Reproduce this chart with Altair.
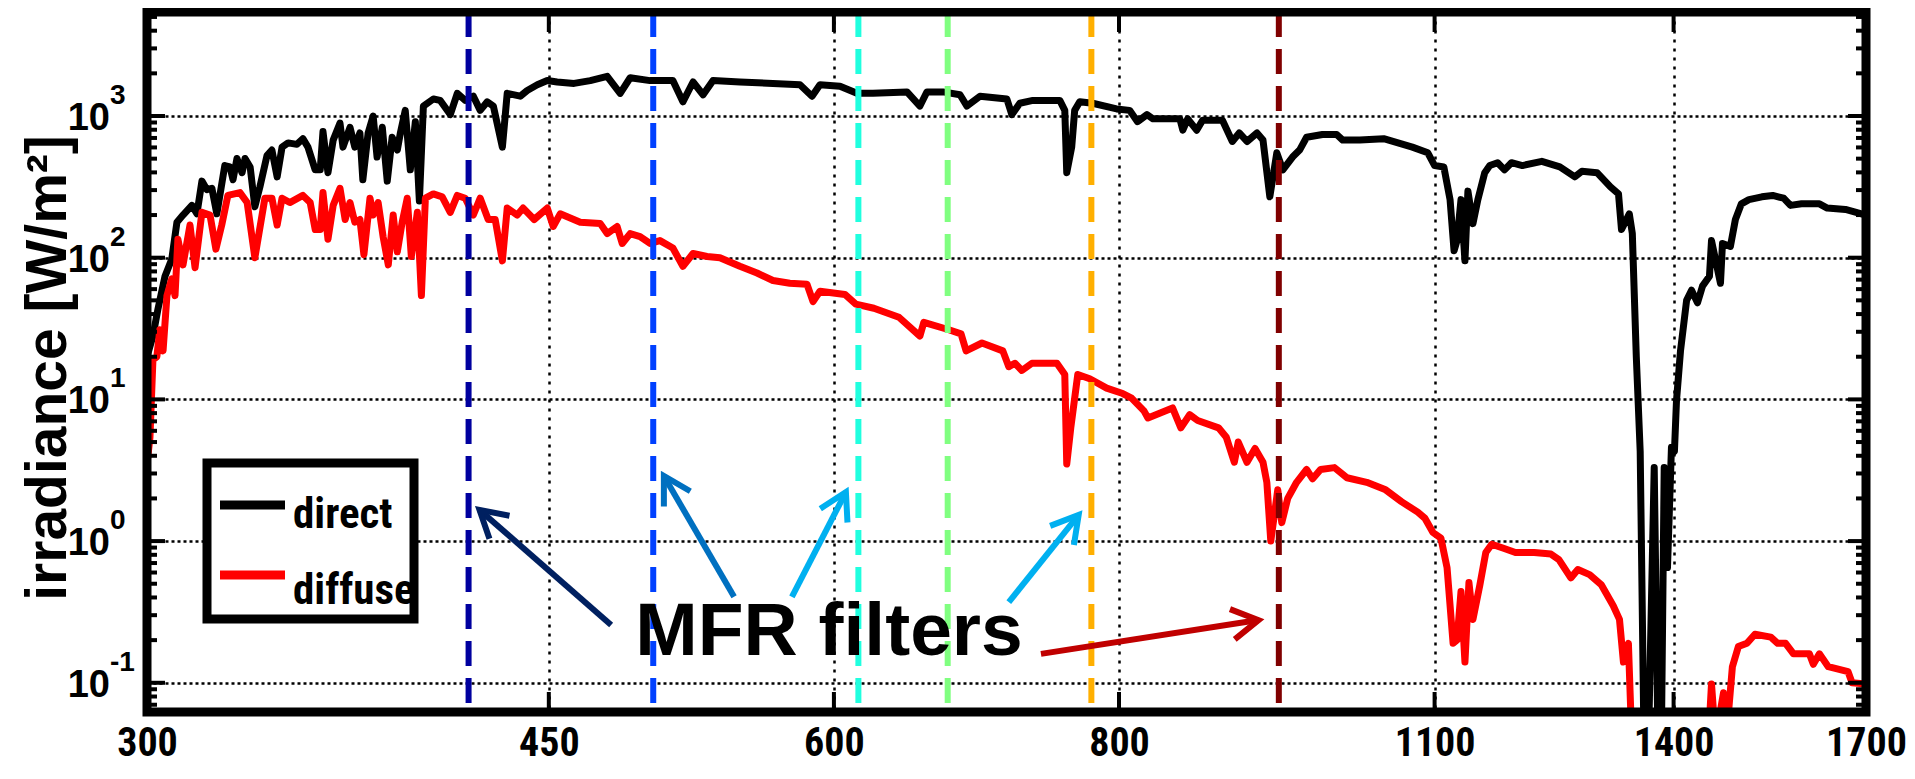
import altair as alt
import pandas as pd

# ---------------- data ----------------
direct_wl = [300, 301.8, 303.3, 305.5, 307.6, 309.2, 311.1, 313.9, 315.5, 317.1, 318.7, 320.3, 321.9, 324.5,
             326.2, 327.2, 328.5, 330.2, 331.2, 332.9, 334.5, 336.2, 338.6, 340.3, 342.1, 343.8, 345.9, 349.0,
             351.1, 352.9, 355.5, 357.3, 358.3, 360.1, 362.0, 364.5, 365.6, 368.2, 370.0, 371.9, 373.0, 375.0,
             376.9, 378.4, 380.4, 382.3, 384.2, 386.2, 387.4, 389.3, 391.3, 393.3, 394.9, 396.5, 400.5, 403.3,
             407.4, 410.3, 413.6, 417.0, 419.9, 422.9, 425.5, 429.4, 431.5, 437.2, 440.3, 444.8, 449.3, 453.8,
             461.6, 469.2, 477.3, 483.6, 488.5, 498.4, 510.0, 515.2, 520.5, 525.8, 531.1, 545.7, 564.2, 579.8,
             586.9, 591.6, 603.7, 614.1, 624.1, 645.9, 654.4, 659.0, 669.8, 681.4, 686.2, 695.3, 714.4, 718.0,
             723.8, 733.4, 753.6, 757.4, 758.9, 762.7, 765.0, 768.9, 779.0, 798.1, 808.6, 815.1, 822.9, 827.9,
             850.7, 853.2, 857.4, 865.2, 870.4, 888.0, 896.9, 903.2, 910.3, 919.5, 925.1, 931.5, 938.1, 943.8,
             953.1, 959.9, 966.7, 982.3, 996.5, 1002.6, 1020.1, 1044.9, 1075.6, 1092.5, 1100.0, 1110.3, 1117.3,
             1121.8, 1125.2, 1129.7, 1134.2, 1137.6, 1143.4, 1149.1, 1157.1, 1163.0, 1172.2, 1180.4, 1188.7,
             1201.9, 1225.7, 1248.2, 1267.3, 1276.3, 1295.9, 1313.6, 1324.3, 1328.3, 1338.8, 1342.9, 1348.3,
             1353.6, 1359.1, 1364.6, 1372.9, 1378.4, 1382.6, 1386.8, 1391.4, 1397.0, 1401.2, 1404.1, 1409.8,
             1418.5, 1425.6, 1434.2, 1441.4, 1451.6, 1454.6, 1467.8, 1470.8, 1482.6, 1490.1, 1499.1, 1510.6,
             1530.4, 1547.3, 1564.4, 1575.3, 1592.9, 1621.9, 1634.8, 1665.1, 1700]
direct_irr = [20, 28, 43, 74, 98, 178, 200, 234, 204, 347, 302, 309, 204, 447,
              437, 355, 501, 398, 501, 437, 229, 316, 525, 575, 372, 603, 646, 631,
              692, 603, 417, 417, 776, 398, 676, 891, 603, 832, 603, 759, 355, 759,
              1000, 513, 832, 347, 708, 575, 759, 1096, 417, 912, 251, 1175, 1318, 1288,
              1023, 1445, 1288, 1380, 1096, 1259, 1175, 603, 1445, 1380, 1514, 1660, 1778, 1738,
              1698, 1778, 1905, 1445, 1862, 1778, 1778, 1259, 1738, 1413, 1778, 1738, 1698, 1660,
              1380, 1660, 1622, 1445, 1445, 1479, 1175, 1479, 1479, 1413, 1175, 1380, 1318, 1023,
              1230, 1288, 1288, 1096, 398, 603, 1096, 1259, 1230, 1122, 1096, 912, 1023, 955,
              955, 794, 955, 794, 933, 933, 661, 759, 661, 759, 676, 269, 550, 417,
              513, 575, 708, 741, 741, 676, 676, 692, 603, 550, 447, 437, 257,
              112, 132, 257, 95, 295, 174, 257, 398, 447, 468, 417, 468,
              447, 479, 437, 372, 407, 398, 316, 282, 158, 204, 148, 20,
              4.3, 0.03, 0.03, 3.3, 0.03, 0.03, 3.3, 0.65, 4.6, 4.3, 9.8, 22,
              50, 59, 48, 63, 74, 132, 66, 126, 120, 186, 240, 257,
              269, 275, 263, 234, 240, 240, 224, 219, 200]

diffuse_wl = [300, 300.9, 301.8, 303.0, 303.9, 304.9, 306.1, 307.6, 308.6, 309.5, 311.1, 313.3, 314.9, 317.1,
              319.7, 321.6, 323.5, 325.5, 329.5, 331.9, 334.5, 337.9, 340.3, 342.1, 343.8, 346.5, 351.1, 353.7,
              355.5, 357.3, 358.3, 360.1, 362.0, 364.5, 366.4, 368.2, 370.0, 371.9, 373.4, 375.7, 376.9, 378.8,
              380.7, 382.7, 384.6, 386.2, 388.1, 390.1, 391.7, 394.1, 395.7, 397.3, 400.5, 404.1, 407.4, 410.3,
              413.6, 417.0, 419.9, 423.3, 426.3, 429.4, 431.5, 435.9, 438.5, 443.4, 449.3, 452.0, 455.2, 464.5,
              474.0, 477.3, 482.1, 484.6, 488.5, 493.4, 498.4, 503.4, 510.0, 515.2, 520.5, 527.9, 534.8, 545.7,
              555.2, 564.2, 573.9, 583.9, 587.5, 591.6, 606.7, 613.4, 624.7, 640.7, 654.4, 657.0, 673.8, 682.1,
              685.6, 696.7, 711.5, 715.8, 720.2, 725.3, 732.7, 751.4, 757.4, 758.9, 762.0, 767.4, 776.7, 790.1,
              803.0, 810.2, 820.4, 823.7, 844.4, 851.5, 859.1, 866.1, 884.5, 891.5, 898.7, 902.3, 910.3, 917.7,
              925.1, 928.7, 932.4, 939.0, 942.8, 948.5, 957.0, 966.7, 972.6, 980.4, 994.3, 1006.9, 1027.2, 1047.0,
              1063.8, 1081.5, 1089.3, 1098.2, 1107.0, 1113.9, 1120.7, 1125.2, 1129.7, 1134.2, 1138.8, 1143.4,
              1151.4, 1158.3, 1165.3, 1179.2, 1193.5, 1216.3, 1237.0, 1247.0, 1262.1, 1271.1, 1286.2, 1301.7,
              1317.3, 1325.6, 1330.9, 1337.6, 1342.9, 1366.0, 1437.1, 1448.7, 1454.6, 1460.5, 1472.3, 1476.4,
              1485.6, 1494.6, 1507.6, 1519.8, 1544.3, 1555.1, 1567.5, 1580.1, 1605.6, 1612.0, 1621.9, 1636.5,
              1669.5, 1676.2, 1700]
diffuse_irr = [3.5, 5.4, 19, 20, 31, 22, 54, 71, 54, 135, 89, 170, 85, 209,
               200, 115, 170, 275, 288, 245, 100, 263, 263, 170, 263, 245, 275, 245,
               158, 158, 288, 135, 234, 309, 186, 245, 178, 186, 105, 263, 200, 245,
               141, 89, 200, 110, 178, 263, 102, 209, 54, 263, 282, 269, 209, 275,
               263, 200, 263, 186, 186, 95, 224, 200, 224, 186, 224, 166, 204, 178,
               174, 148, 166, 126, 148, 141, 126, 132, 117, 87, 107, 102, 100, 87,
               78, 69, 66, 65, 49, 58, 55, 47, 44, 38, 28, 35, 31, 29,
               22, 25, 22, 17, 18, 16, 18, 18, 15, 3.5, 6.3, 15, 14, 12,
               11, 10.2, 8.3, 7.4, 8.7, 6.3, 7.8, 7.1, 6.3, 5.4, 3.6, 5.0, 3.6, 4.5,
               3.6, 2.6, 1.0, 2.3, 1.35, 2.0, 2.6, 3.2, 2.75, 3.2, 3.3, 2.8, 2.6, 2.3,
               1.9, 1.6, 1.45, 1.15, 1.05, 0.65, 0.19, 0.20, 0.44, 0.14, 0.51, 0.28,
               0.49, 0.83, 0.95, 0.89, 0.83, 0.83, 0.81, 0.74, 0.55, 0.63, 0.58, 0.49,
               0.35, 0.28, 0.14, 0.19, 0.03, 0.01, 0.01, 0.03, 0.098, 0.04, 0.085, 0.04,
               0.13, 0.18, 0.19, 0.22, 0.21, 0.19, 0.19, 0.16, 0.16, 0.135, 0.16, 0.13,
               0.12, 0.10, 0.098]

series_names = ["direct", "diffuse"]
series_colors = ["#000000", "#ff0000"]

filter_wl = [415, 500, 615, 673, 778, 940]
filter_colors = ["#00009f", "#0040ff", "#20ffdf", "#80ff80", "#ffaf00", "#800000"]

x_ticks = [300, 450, 600, 800, 1100, 1400, 1700]
y_major = [0.1, 1, 10, 100, 1000]
y_exponents = ["-1", "0", "1", "2", "3"]
y_minor = [0.07, 0.08, 0.09, 0.2, 0.3, 0.4, 0.5, 0.6, 0.7, 0.8, 0.9, 2, 3, 4, 5, 6, 7, 8, 9,
           20, 30, 40, 50, 60, 70, 80, 90, 200, 300, 400, 500, 600, 700, 800, 900,
           2000, 3000, 4000, 5000]

# arrows: tail (x, y) -> tip (x2, y2)
arrow_x = [479.2, 542.5, 575.1, 715.8, 739.4]
arrow_y = [0.256, 0.404, 0.404, 0.371, 0.160]
arrow_x2 = [419.6, 505.4, 607.3, 768.1, 920.9]
arrow_y2 = [1.66, 2.88, 2.22, 1.53, 0.277]
arrow_colors = ["#002060", "#0070c0", "#00b0f0", "#00b0f0", "#c00000"]
arrow_angles = [311, 330, 27, 39, 81]

annot_text = "MFR filters"
annot_x = 491
annot_y = 0.157

y_title = "irradiance [W/m\u00b2]"

# ---------------- layout constants ----------------
W, H = 1719, 700
X_DOMAIN = [300, 1700]
Y_DOMAIN = [0.0622, 5420]
FONT = "Liberation Sans, Arial, sans-serif"
NARROW = ("Liberation Sans Narrow, Roboto Condensed, Noto Sans Condensed, "
          "DejaVu Sans Condensed, Liberation Sans, sans-serif")

# ---------------- tables ----------------
df = pd.concat([
    pd.DataFrame({"wl": direct_wl, "irr": direct_irr, "series": series_names[0]}),
    pd.DataFrame({"wl": diffuse_wl, "irr": diffuse_irr, "series": series_names[1]}),
])
filters = pd.DataFrame({"wl": filter_wl, "color": filter_colors})
arrows = pd.DataFrame({"x": arrow_x, "y": arrow_y, "x2": arrow_x2, "y2": arrow_y2,
                       "color": arrow_colors, "angle": arrow_angles})
xt = pd.DataFrame({"v": x_ticks})
ymaj = pd.DataFrame({"v": y_major, "e": y_exponents})
ymin = pd.DataFrame({"v": y_minor})
one = pd.DataFrame({"a": [0]})

xs = alt.Scale(type="log", domain=X_DOMAIN, nice=False)
ys = alt.Scale(type="log", domain=Y_DOMAIN, nice=False)

x_axis = alt.Axis(values=x_ticks, grid=True, gridColor="black", gridDash=[3, 6], gridWidth=2.5,
                  gridOpacity=1, ticks=False, domain=False, title=None, format="d",
                  labelFont=NARROW, labelFontWeight="bold", labelFontSize=40, labelColor="black",
                  labelPadding=11, labelFlush=False, labelOverlap=False)
y_axis = alt.Axis(values=y_major, grid=True, gridColor="black", gridDash=[3, 3], gridWidth=2.5,
                  gridOpacity=1, ticks=False, domain=False, labels=False, title=None)

lines = alt.Chart(df).mark_line(strokeWidth=7, clip=True, strokeJoin="round").encode(
    x=alt.X("wl:Q", scale=xs, axis=x_axis),
    y=alt.Y("irr:Q", scale=ys, axis=y_axis),
    color=alt.Color("series:N", scale=alt.Scale(domain=series_names, range=series_colors), legend=None),
    detail="series:N",
)

filt = alt.Chart(filters).mark_rule(strokeWidth=6, strokeDash=[25, 12]).encode(
    x=alt.X("wl:Q", scale=xs),
    color=alt.Color("color:N", scale=None),
)

mfr = alt.Chart(one).mark_text(text=annot_text, font=FONT, fontWeight="bold", fontSize=75,
                               align="left", baseline="alphabetic", color="black").encode(
    x=alt.datum(annot_x, scale=xs), y=alt.datum(annot_y, scale=ys))

arrow_shafts = alt.Chart(arrows).mark_rule(strokeWidth=6).encode(
    x=alt.X("x:Q", scale=xs), x2="x2:Q",
    y=alt.Y("y:Q", scale=ys), y2="y2:Q",
    color=alt.Color("color:N", scale=None),
)
arrow_heads = alt.Chart(arrows).mark_point(
    shape="M -0.577 1 L 0 0 L 0.577 1", filled=False, strokeWidth=6, size=2800, opacity=1,
    strokeJoin="miter").encode(
    x=alt.X("x2:Q", scale=xs),
    y=alt.Y("y2:Q", scale=ys),
    color=alt.Color("color:N", scale=None),
    angle=alt.Angle("angle:Q", scale=None),
)

# legend box
leg_box = alt.Chart(one).mark_rect(fill="white", stroke="black", strokeWidth=9).encode(
    x=alt.value(60), x2=alt.value(267), y=alt.value(451), y2=alt.value(607))
leg_l1 = alt.Chart(one).mark_rule(strokeWidth=9, color=series_colors[0]).encode(
    x=alt.value(73), x2=alt.value(138), y=alt.value(493))
leg_l2 = alt.Chart(one).mark_rule(strokeWidth=9, color=series_colors[1]).encode(
    x=alt.value(73), x2=alt.value(138), y=alt.value(563))
leg_t1 = alt.Chart(one).mark_text(text=series_names[0], font=NARROW, fontWeight="bold", fontSize=43,
                                  align="left", baseline="alphabetic").encode(
    x=alt.value(146), y=alt.value(516))
leg_t2 = alt.Chart(one).mark_text(text=series_names[1], font=NARROW, fontWeight="bold", fontSize=43,
                                  align="left", baseline="alphabetic").encode(
    x=alt.value(146), y=alt.value(592))

# tick marks (inward)
tx_bottom = alt.Chart(xt).mark_rule(strokeWidth=4, color="black").encode(
    x=alt.X("v:Q", scale=xs), y=alt.value(H), y2=alt.value(H - 20))
tx_top = alt.Chart(xt).mark_rule(strokeWidth=4, color="black").encode(
    x=alt.X("v:Q", scale=xs), y=alt.value(0), y2=alt.value(20))
ty_left = alt.Chart(ymaj).mark_rule(strokeWidth=4, color="black").encode(
    y=alt.Y("v:Q", scale=ys), x=alt.value(0), x2=alt.value(18))
ty_right = alt.Chart(ymaj).mark_rule(strokeWidth=4, color="black").encode(
    y=alt.Y("v:Q", scale=ys), x=alt.value(W), x2=alt.value(W - 18))
tym_left = alt.Chart(ymin).mark_rule(strokeWidth=4, color="black").encode(
    y=alt.Y("v:Q", scale=ys), x=alt.value(0), x2=alt.value(10))
tym_right = alt.Chart(ymin).mark_rule(strokeWidth=4, color="black").encode(
    y=alt.Y("v:Q", scale=ys), x=alt.value(W), x2=alt.value(W - 10))

# y tick labels 10^k
ylab = alt.Chart(ymaj).mark_text(text="10", font=FONT, fontWeight="bold", fontSize=38,
                                 align="right", baseline="middle", dy=3, color="black").encode(
    y=alt.Y("v:Q", scale=ys), x=alt.value(-37))
yexp = alt.Chart(ymaj).mark_text(font=FONT, fontWeight="bold", fontSize=28,
                                 align="left", baseline="middle", dy=-20, color="black").encode(
    y=alt.Y("v:Q", scale=ys), x=alt.value(-37), text="e:N")

ytitle = alt.Chart(one).mark_text(text=y_title, font=FONT, fontWeight="bold", fontSize=57,
                                  angle=270, align="center", baseline="middle", color="black").encode(
    x=alt.value(-98), y=alt.value(356))

frame = alt.Chart(one).mark_rect(filled=False, stroke="black", strokeWidth=9).encode(
    x=alt.value(0), x2=alt.value(W), y=alt.value(0), y2=alt.value(H))

chart = alt.layer(
    lines, filt, leg_box, leg_l1, leg_l2, leg_t1, leg_t2, mfr, arrow_shafts, arrow_heads,
    tx_bottom, tx_top, ty_left, ty_right, tym_left, tym_right, ylab, yexp, ytitle, frame,
).properties(
    width=W, height=H,
    autosize=alt.AutoSizeParams(type="none"),
    padding={"left": 139, "top": 4, "right": 41, "bottom": 62},
).configure_view(stroke=None).configure(background="white")

chart.save("out.html", embed_options={"renderer": "svg", "actions": False})
